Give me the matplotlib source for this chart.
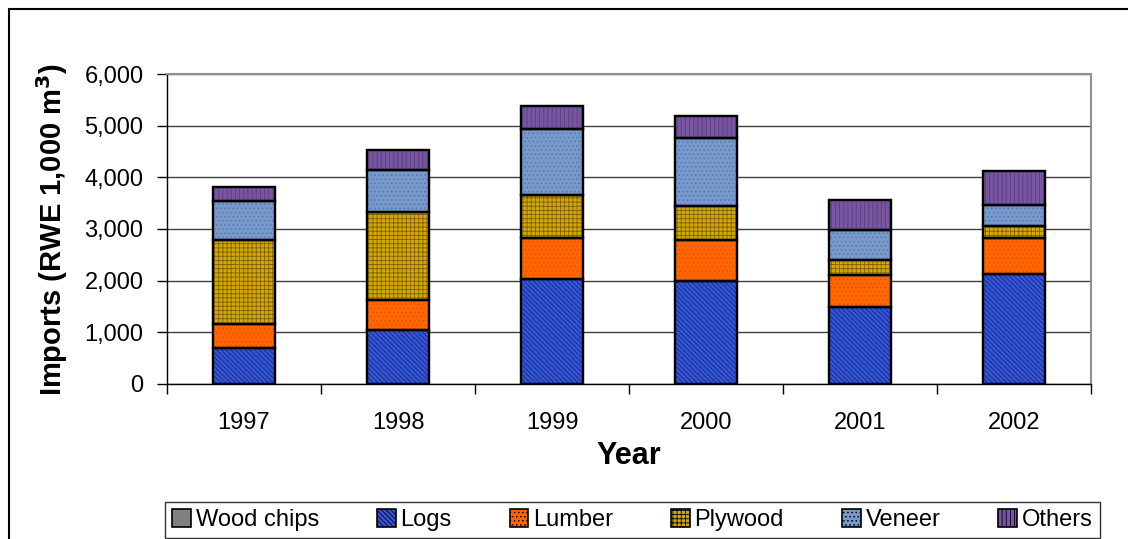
import matplotlib
matplotlib.use("Agg")
import matplotlib.pyplot as plt
import numpy as np
from matplotlib.patches import Rectangle, Patch
from matplotlib.ticker import FuncFormatter, FixedLocator

plt.rcParams['font.family'] = ['Liberation Sans', 'DejaVu Sans']
plt.rcParams['hatch.linewidth'] = 0.6

# Data (RWE 1,000 m3)
years = ['1997', '1998', '1999', '2000', '2001', '2002']
wood_chips = [0, 0, 0, 0, 0, 0]
logs = [700, 1045, 2030, 2000, 1500, 2120]
lumber = [460, 575, 800, 790, 610, 710]
plywood = [1630, 1700, 825, 650, 295, 225]
veneer = [750, 825, 1290, 1320, 575, 415]
others = [280, 385, 430, 425, 580, 650]

series = [
    # name, values, face, hatch, hatch colour
    ('Wood chips', wood_chips, '#808080', None, '#606060'),
    ('Logs', logs, '#3355DD', '\\\\\\\\\\\\\\', '#1a2a70'),
    ('Lumber', lumber, '#FF6600', '....', '#E05500'),
    ('Plywood', plywood, '#D4A800', '++++', '#7a6000'),
    ('Veneer', veneer, '#7799CC', '....', '#5577AA'),
    ('Others', others, '#7755A0', '||||', '#5a3f80'),
]

fig = plt.figure(figsize=(11.28, 5.39), dpi=100)
ax = fig.add_axes([167 / 1128, 1 - 384 / 539, 924 / 1128, 310 / 539])

x = np.arange(len(years))
bottom = np.zeros(len(years))
handles = []
for name, vals, face, hatch, hcol in series:
    vals = np.array(vals, dtype=float)
    ax.bar(x, vals, width=0.4, bottom=bottom, color=face, edgecolor='black',
           linewidth=1.6, zorder=3)
    if hatch:
        ax.bar(x, vals, width=0.4, bottom=bottom, fill=False, hatch=hatch,
               edgecolor=hcol, linewidth=0, zorder=3)
        ax.bar(x, vals, width=0.4, bottom=bottom, fill=False,
               edgecolor='black', linewidth=1.6, zorder=4)
    bottom += vals
    handles.append(Patch(facecolor=face, edgecolor='black', hatch=hatch,
                         linewidth=1.2, label=name))

ax.set_xlim(-0.5, len(years) - 0.5)
ax.set_ylim(0, 6000)
ax.set_yticks(range(0, 6001, 1000))
ax.yaxis.set_major_formatter(FuncFormatter(lambda v, p: f'{int(v):,}'))
ax.set_xticks(x)
ax.set_xticklabels(years)
ax.xaxis.set_minor_locator(FixedLocator(np.arange(-0.5, len(years), 1.0)))
ax.tick_params(axis='x', which='major', length=0, pad=20, labelsize=17)
ax.tick_params(axis='x', which='minor', length=7, width=1, direction='out')
ax.tick_params(axis='y', length=7, width=1, direction='out', pad=10, labelsize=17)

ax.grid(axis='y', color='#404040', linewidth=1, zorder=0)
for side in ['top', 'right']:
    ax.spines[side].set_color('#909090')
    ax.spines[side].set_linewidth(1.5)
ax.spines['left'].set_linewidth(1)
ax.spines['bottom'].set_linewidth(1)

ax.set_ylabel('Imports (RWE 1,000 m$^{\\mathbf{3}}$)', fontsize=21,
              fontweight='bold', labelpad=10)
ax.set_xlabel('Year', fontsize=22, fontweight='bold', labelpad=5)

leg = fig.legend(handles=handles, loc='upper left', ncol=6,
                 bbox_to_anchor=(165 / 1128, 1 - 502 / 539), fontsize=17,
                 frameon=True, fancybox=False, edgecolor='black',
                 handlelength=0.8, handleheight=0.8, handletextpad=0.2,
                 columnspacing=2.45, borderpad=0.3, borderaxespad=0)
leg.get_frame().set_linewidth(1)

# outer chart border
fig.patches.append(Rectangle((9 / 1128, -0.1), 1.2, 1.1 - 9 / 539,
                             transform=fig.transFigure, fill=False,
                             edgecolor='black', linewidth=1.5))

fig.savefig('out.png', dpi=100)
